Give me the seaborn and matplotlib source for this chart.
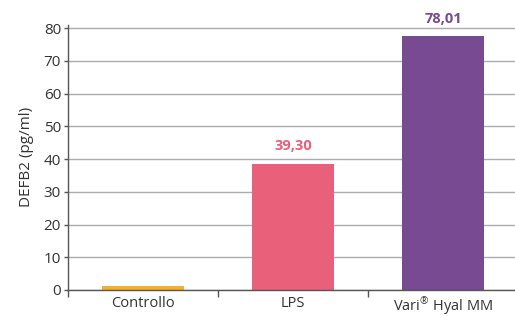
import matplotlib
matplotlib.use("Agg")
import matplotlib.pyplot as plt
import seaborn as sns
import pandas as pd
from matplotlib.ticker import FixedLocator

categories = ["Controllo", "LPS", "Vari® Hyal MM"]
tick_labels = ["Controllo", "LPS", "Vari$^{®}$ Hyal MM"]
values = [1.2, 38.6, 77.5]
value_labels = ["", "39,30", "78,01"]
colors = ["#F6AE2D", "#E8607A", "#774A92"]
y_ticks = [0, 10, 20, 30, 40, 50, 60, 70, 80]

sns.set_theme(style="white")
plt.rcParams["font.family"] = ["Open Sans", "DejaVu Sans"]
plt.rcParams["mathtext.fontset"] = "custom"
plt.rcParams["mathtext.rm"] = "Open Sans"
plt.rcParams["mathtext.it"] = "Open Sans"
plt.rcParams["mathtext.bf"] = "Open Sans:bold"
plt.rcParams["mathtext.default"] = "rm"

df = pd.DataFrame({"cat": categories, "val": values})

fig = plt.figure(figsize=(5.15, 3.16), dpi=100)
ax = fig.add_axes([0.132, 0.0823, 0.868, 0.839])

sns.barplot(data=df, x="cat", y="val", hue="cat", palette=colors,
            width=0.55, legend=False, ax=ax, saturation=1, linewidth=0)

ax.set_ylim(0, 81)
ax.set_xlim(-0.5, 2.48)
ax.set_yticks(y_ticks)
ax.yaxis.grid(True, color="#ABABAB", linewidth=1.0)
ax.set_axisbelow(True)
ax.set_xticks([0, 1, 2])
ax.set_xticklabels(tick_labels)

for s in ["top", "right"]:
    ax.spines[s].set_visible(False)
for s in ["left", "bottom"]:
    ax.spines[s].set_color("#555555")
    ax.spines[s].set_linewidth(1.0)

ax.tick_params(axis="y", which="major", length=3, width=1, color="#555555",
               labelsize=11, labelcolor="#333333", pad=2, left=True)
ax.tick_params(axis="x", which="major", length=0, labelsize=10.5,
               labelcolor="#333333", pad=4)
ax.xaxis.set_minor_locator(FixedLocator([-0.5, 0.5, 1.5]))
ax.tick_params(axis="x", which="minor", length=5, width=1, color="#555555",
               bottom=True)

ax.set_xlabel("")
ax.set_ylabel("DEFB2 (pg/ml)", fontsize=11, color="#333333", labelpad=7)

for i, (v, lab) in enumerate(zip(values, value_labels)):
    if lab:
        ax.text(i, v + 3.3, lab, ha="center", va="bottom", color=colors[i],
                fontsize=10.5, fontweight="bold", clip_on=False)

fig.savefig("out.png", dpi=100)
